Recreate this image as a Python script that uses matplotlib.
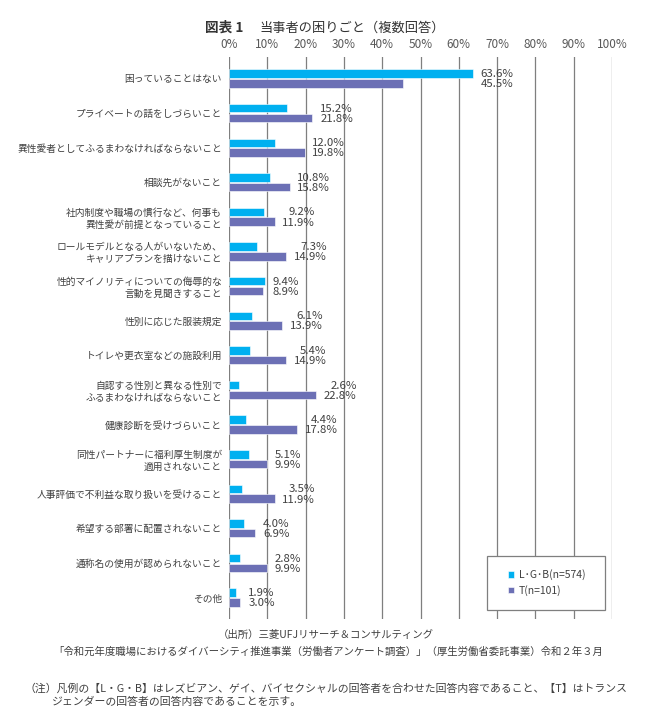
import matplotlib
matplotlib.use("Agg")
import matplotlib.pyplot as plt
from matplotlib.patches import Rectangle
import numpy as np

plt.rcParams['font.family'] = ['Noto Sans CJK JP', 'DejaVu Sans']

categories = [
    "困っていることはない",
    "プライベートの話をしづらいこと",
    "異性愛者としてふるまわなければならないこと",
    "相談先がないこと",
    "社内制度や職場の慣行など、何事も\n異性愛が前提となっていること",
    "ロールモデルとなる人がいないため、\nキャリアプランを描けないこと",
    "性的マイノリティについての侮辱的な\n言動を見聞きすること",
    "性別に応じた服装規定",
    "トイレや更衣室などの施設利用",
    "自認する性別と異なる性別で\nふるまわなければならないこと",
    "健康診断を受けづらいこと",
    "同性パートナーに福利厚生制度が\n適用されないこと",
    "人事評価で不利益な取り扱いを受けること",
    "希望する部署に配置されないこと",
    "通称名の使用が認められないこと",
    "その他",
]
lgb = [63.6, 15.2, 12.0, 10.8, 9.2, 7.3, 9.4, 6.1, 5.4, 2.6, 4.4, 5.1, 3.5, 4.0, 2.8, 1.9]
t = [45.5, 21.8, 19.8, 15.8, 11.9, 14.9, 8.9, 13.9, 14.9, 22.8, 17.8, 9.9, 11.9, 6.9, 9.9, 3.0]
series_names = ["L･G･B(n=574)", "T(n=101)"]
xticks = list(range(0, 101, 10))

c_lgb = "#00B0F0"
c_t = "#6C70B5"
txt = "#404040"

fig = plt.figure(figsize=(6.57, 7.18), dpi=100)
ax = fig.add_axes([229/657, 1-619/718, (612-229)/657, (619-57)/718])

y = np.arange(len(categories))
h = 0.245
off = 0.14
ax.barh(y - off, lgb, height=h, color=c_lgb, edgecolor="white", linewidth=0.4, label=series_names[0], zorder=3)
ax.barh(y + off, t, height=h, color=c_t, edgecolor="white", linewidth=0.4, label=series_names[1], zorder=3)

ax.set_xlim(0, 100)
ax.set_ylim(len(categories) - 1 + 0.62, -0.62)
ax.xaxis.tick_top()
ax.set_xticks(xticks)
ax.set_xticklabels([f"{v}%" for v in xticks], fontsize=8.5, color="#595959")
ax.tick_params(axis='x', length=0, pad=4)
ax.set_yticks(y)
ax.set_yticklabels(categories, fontsize=7.0, color=txt, multialignment='right')
ax.tick_params(axis='y', length=0, pad=5)
for s in ax.spines.values():
    s.set_visible(False)
for v in xticks:
    ax.axvline(v, color="#7F7F7F", linewidth=0.9, zorder=1)

for i, (a, b) in enumerate(zip(lgb, t)):
    m = max(a, b)
    ax.annotate(f"{a:.1f}%\n{b:.1f}%", xy=(m, i), xytext=(5.5, -0.5), textcoords="offset points",
                ha="left", va="center", multialignment="right", fontsize=8.2,
                color=txt, linespacing=1.02, zorder=4)

box = Rectangle((487/657, 1-610/718), (605-487)/657, (610-556)/718, transform=fig.transFigure,
                facecolor="white", edgecolor="#7F7F7F", linewidth=0.9, zorder=4.5, clip_on=False)
ax.add_patch(box)

leg = ax.legend(loc="center left", bbox_to_anchor=(508/657, 1-582.5/718), bbox_transform=fig.transFigure,
                fontsize=7.5, frameon=False,
                handlelength=0.6, handleheight=0.6, handletextpad=0.45,
                borderpad=0, labelspacing=0.45, borderaxespad=0)
for tx in leg.get_texts():
    tx.set_color(txt)
leg.set_zorder(6)

fig.text(205/657, 1-28/718, "図表 1", fontsize=9.8, fontweight="bold", color="#333333", ha="left", va="center")
fig.text(259/657, 1-28/718, "当事者の困りごと（複数回答）", fontsize=9.5, color="#333333", ha="left", va="center")

fig.text(326/657, 1-635/718, "（出所）三菱UFJリサーチ＆コンサルティング", fontsize=7.5, color=txt, ha="center", va="center")
fig.text(328/657, 1-652/718, "「令和元年度職場におけるダイバーシティ推進事業（労働者アンケート調査）」（厚生労働省委託事業）令和２年３月",
         fontsize=7.5, color=txt, ha="center", va="center")
fig.text(25/657, 1-688/718, "（注）凡例の【L・G・B】はレズビアン、ゲイ、バイセクシャルの回答者を合わせた回答内容であること、【T】はトランス",
         fontsize=7.8, color=txt, ha="left", va="center")
fig.text(52/657, 1-702/718, "ジェンダーの回答者の回答内容であることを示す。", fontsize=7.8, color=txt, ha="left", va="center")

fig.savefig("out.png", dpi=100)
